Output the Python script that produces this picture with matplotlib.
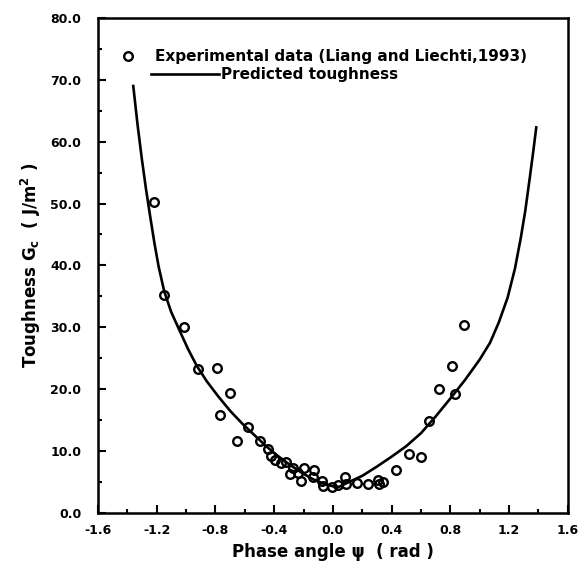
"""
Toughness Gc vs. phase angle psi: experimental points and predicted curve.
Writes out.png (580x577 px).
"""

import matplotlib

matplotlib.use("Agg")
import matplotlib.pyplot as plt
from matplotlib.ticker import MultipleLocator, FormatStrFormatter

EXP_PSI = [
    -1.222, -1.150, -1.013, -0.922, -0.788, -0.703, -0.770, -0.650, -0.579,
    -0.498, -0.443, -0.423, -0.395, -0.356, -0.322, -0.293, -0.271, -0.235,
    -0.217, -0.198, -0.128, -0.139, -0.074, -0.065, -0.005, 0.032, 0.082,
    0.090, 0.162, 0.237, 0.304, 0.339, 0.312, 0.428, 0.516, 0.601, 0.653,
    0.721, 0.810, 0.830, 0.895,
]
EXP_GC = [
    50.3, 35.3, 30.0, 23.3, 23.5, 19.4, 15.8, 11.6, 13.9,
    11.7, 10.3, 9.2, 8.5, 8.1, 8.2, 6.3, 7.2, 6.5,
    5.2, 7.2, 7.0, 5.8, 5.2, 4.4, 4.2, 4.5, 5.8,
    4.6, 4.9, 4.6, 5.3, 5.0, 4.6, 7.0, 9.5, 9.0, 14.8,
    20.0, 23.8, 19.3, 30.3,
]

# Predicted toughness curve
PRED_PSI = [
    -1.360, -1.331, -1.302, -1.273, -1.244, -1.215, -1.187, -1.149, -1.102, -1.045,
    -0.987, -0.928, -0.86, -0.78, -0.70, -0.62, -0.54, -0.46, -0.38, -0.30,
    -0.22, -0.14, -0.07, 0.00, 0.04,
    0.10, 0.20, 0.30, 0.40, 0.50, 0.60, 0.70, 0.80, 0.90, 1.00,
    1.07, 1.13, 1.19, 1.24, 1.28, 1.31, 1.34, 1.365, 1.385,
]
PRED_GC = [
    69.0, 62.8, 57.3, 52.3, 47.8, 43.5, 39.8, 35.8, 32.5, 29.5,
    26.5, 23.8, 21.3, 18.8, 16.5, 14.5, 12.7, 10.9, 9.3, 7.9,
    6.6, 5.5, 4.8, 4.3, 4.2,
    4.9, 6.0, 7.5, 9.1, 10.8, 12.9, 15.6, 18.5, 21.5, 24.8,
    27.5, 30.8, 34.8, 39.5, 44.5, 48.8, 54.0, 58.5, 62.3,
]

EXP_LABEL = "Experimental data (Liang and Liechti,1993)"
PRED_LABEL = "Predicted toughness"

plt.rcParams["font.family"] = ["DejaVu Sans"]
plt.rcParams["font.weight"] = "bold"

fig = plt.figure(figsize=(5.8, 5.77), dpi=100)
ax = fig.add_axes([0.169, 0.111, 0.810, 0.858])

pred_line, = ax.plot(PRED_PSI, PRED_GC, color="black", lw=1.9, label=PRED_LABEL)
exp_pts, = ax.plot(
    EXP_PSI, EXP_GC, linestyle="none", marker="o", ms=6.2, mew=1.7,
    mfc="none", mec="black", label=EXP_LABEL,
)

ax.set_xlim(-1.6, 1.6)
ax.set_ylim(0, 80)
ax.xaxis.set_major_locator(MultipleLocator(0.4))
ax.xaxis.set_minor_locator(MultipleLocator(0.2))
ax.yaxis.set_major_locator(MultipleLocator(10))
ax.yaxis.set_minor_locator(MultipleLocator(5))
ax.xaxis.set_major_formatter(FormatStrFormatter("%.1f"))
ax.yaxis.set_major_formatter(FormatStrFormatter("%.1f"))

ax.tick_params(which="both", direction="in", width=1.5, top=False, right=False, labelsize=9)
ax.tick_params(which="major", length=6)
ax.tick_params(which="minor", length=3)
ax.tick_params(axis="y", pad=12)
ax.tick_params(axis="x", pad=8)
for lab in ax.get_xticklabels() + ax.get_yticklabels():
    lab.set_fontweight("bold")
for sp in ax.spines.values():
    sp.set_linewidth(1.8)

ax.set_xlabel("Phase angle \u03c8  ( rad )", fontsize=12, fontweight="bold", labelpad=4)
ax.set_ylabel("Toughness G$_\\mathbf{c}$  ( J/m$^\\mathbf{2}$ )", fontsize=12,
              fontweight="bold", labelpad=5)

# two separate legend rows, offset like in the original
leg1 = ax.legend(
    handles=[exp_pts], loc="center left", bbox_to_anchor=(0.047, 0.921),
    frameon=False, borderpad=0, borderaxespad=0, handlelength=1.0,
    handletextpad=1.26, prop={"size": 11, "weight": "bold"},
)
ax.add_artist(leg1)
ax.legend(
    handles=[pred_line], loc="center left", bbox_to_anchor=(0.112, 0.885),
    frameon=False, borderpad=0, borderaxespad=0, handlelength=4.5,
    handletextpad=0.1, prop={"size": 11, "weight": "bold"},
)

fig.savefig("out.png", dpi=100)
